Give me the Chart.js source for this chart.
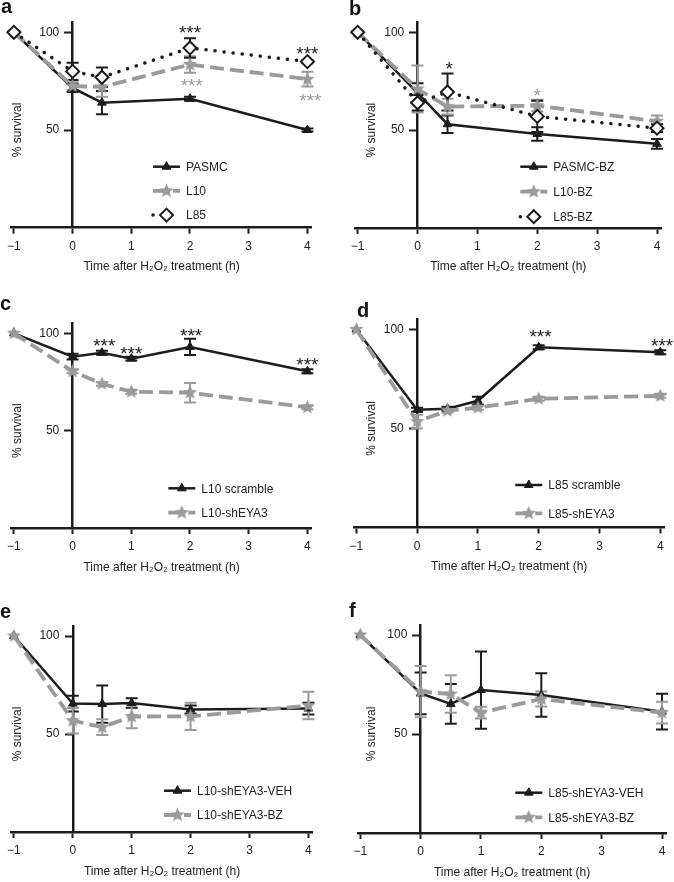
<!DOCTYPE html>
<html lang="en">
<head>
<meta charset="UTF-8">
<title>% survival after H2O2 treatment</title>
<script src="https://cdn.jsdelivr.net/npm/chart.js"></script>
<style>
  body { margin: 0; background: #fff; }
  #fig { position: relative; width: 674px; height: 882px; overflow: hidden; font-family: "Liberation Sans", Arial, sans-serif; }
  #fig canvas { position: absolute; }
  .lbl { position: absolute; font-weight: bold; font-size: 20px; line-height: 1; color: #111; }
</style>
</head>
<body>
<div id="fig">
  <canvas id="pa" width="337" height="290" style="left:0;top:0"></canvas>
  <canvas id="pb" width="337" height="290" style="left:337px;top:0"></canvas>
  <canvas id="pc" width="337" height="290" style="left:0;top:290px"></canvas>
  <canvas id="pd" width="337" height="290" style="left:337px;top:290px"></canvas>
  <canvas id="pe" width="337" height="302" style="left:0;top:580px"></canvas>
  <canvas id="pf" width="337" height="302" style="left:337px;top:580px"></canvas>
  <div class="lbl" style="left:1px;top:-4px">a</div>
  <div class="lbl" style="left:349px;top:-2px">b</div>
  <div class="lbl" style="left:0;top:293px">c</div>
  <div class="lbl" style="left:357px;top:300px">d</div>
  <div class="lbl" style="left:0;top:601px">e</div>
  <div class="lbl" style="left:349px;top:600px">f</div>
</div>
<script>
// time points (h after H2O2) and axis ticks
const timesAB = [-1, 0, 0.5, 2, 4];
const timesCF = [-1, 0, 0.5, 1, 2, 4];
const xTicks = [-1, 0, 1, 2, 3, 4];
const yTicks = [50, 100];

// panel a
const pasmc = [100, 71.5, 64, 66, 50];
const pasmcErr = [0, 2, 6, 1, 0.8];
const l10 = [100, 72.5, 72, 83.5, 76];
const l10Err = [0, 2, 5, 4.2, 3.8];
const l85 = [100, 80, 77, 92, 85];
const l85Err = [0, 4.4, 5, 5, 0.8];
const sigA = [{ x: 2, y: 102, t: '***' }, { x: 4, y: 91.3, t: '***' }];
const sigAGray = [{ x: 2.03, y: 75, t: '***' }, { x: 4.05, y: 67.4, t: '***' }];

// panel b
const pasmcBz = [100, 69, 53, 48, 43];
const pasmcBzErr = [0, 5, 4.5, 3.5, 2.5];
const l10Bz = [100, 71, 62, 62.5, 54.5];
const l10BzErr = [0, 12, 4, 3, 3];
const l85Bz = [100, 64, 69.5, 57, 51];
const l85BzErr = [0, 4, 9.5, 8, 2];
const sigB = [{ x: 0.53, y: 83.8, t: '*' }];
const sigBGray = [{ x: 2, y: 70, t: '*' }];

// panel c
const l10Scr = [100, 88, 90, 87, 93, 80.5];
const l10ScrErr = [0, 1.5, 1, 1, 4.2, 1];
const l10Sh = [100, 80.5, 74, 70, 69.5, 62];
const l10ShErr = [0, 1, 1, 1, 5, 1];
const sigC = [{ x: 0.54, y: 96, t: '***' }, { x: 1, y: 92, t: '***' }, { x: 2.02, y: 101, t: '***' }, { x: 4, y: 86.3, t: '***' }];

// panel d
const l85Scr = [100, 59.5, 60, 64, 91, 88.5];
const l85ScrErr = [0, 1, 1, 2, 1, 1];
const l85Sh = [100, 53.5, 59, 60.5, 65, 66.5];
const l85ShErr = [0, 3.5, 1, 1, 1, 1];
const sigD = [{ x: 2.03, y: 98.4, t: '***' }, { x: 4.03, y: 94.3, t: '***' }];

// panel e
const l10Veh = [100, 65.5, 65.3, 65.8, 62.5, 63];
const l10VehErr = [0, 4, 9.5, 2.4, 2, 3];
const l10BzE = [100, 56.8, 53.5, 58.9, 59, 64.5];
const l10BzEErr = [0, 6.5, 4, 6, 7, 7];

// panel f
const l85Veh = [100, 70.5, 65.2, 72.2, 69.7, 61.3];
const l85VehErr = [0, 10.5, 10, 19.5, 11, 9];
const l85BzF = [100, 71.4, 70.2, 60.8, 67.7, 60.8];
const l85BzFErr = [0, 13, 9.5, 3, 3.8, 5.5];

const BLACK = '#1c1c1c', GRAY = '#9a9a9a', TXT = '#222';
const FONT = '"Liberation Sans", Arial, sans-serif';
const X_MIN = -1.04, X_MAX = 4.07, Y_MAX = 105;
const AXIS_H = 48.4;

function starImage(r) {
  const s = Math.ceil(r * 2 + 2);
  const c = document.createElement('canvas');
  c.width = s; c.height = s;
  const g = c.getContext('2d');
  g.fillStyle = GRAY;
  g.beginPath();
  for (let k = 0; k < 10; k++) {
    const rr = k % 2 ? r * 0.45 : r;
    const a = -Math.PI / 2 + k * Math.PI / 5;
    g.lineTo(s / 2 + rr * Math.cos(a), s / 2 + rr * Math.sin(a));
  }
  g.closePath();
  g.fill();
  return c;
}
const STAR = starImage(7.5);

const solidTri = { borderColor: BLACK, backgroundColor: BLACK, borderWidth: 2.5, pointStyle: 'triangle', pointRadius: 5, pointBorderWidth: 1, pointBackgroundColor: BLACK, pointBorderColor: BLACK };
const dashStar = { borderColor: GRAY, backgroundColor: GRAY, borderWidth: 3.8, borderDash: [14, 6], pointStyle: STAR, pointRadius: 7, pointBorderWidth: 0 };
const dotDiamond = { borderColor: BLACK, backgroundColor: '#fff', borderWidth: 3.5, borderDash: [0.1, 9], borderCapStyle: 'round', pointStyle: 'rectRot', pointRadius: 6.5, pointBorderWidth: 2, pointBackgroundColor: '#fff', pointBorderColor: BLACK };

function series(label, xs, ys, err, style, order) {
  return Object.assign({ label, order, tension: 0, clip: false, fill: false, errors: err,
    data: xs.map((x, i) => ({ x, y: ys[i] })) }, style);
}

// error bars, significance marks, in-plot legend and y title
const extras = {
  id: 'extras',
  beforeDatasetsDraw(chart) {
    const { ctx, scales: { x, y } } = chart;
    chart.data.datasets.forEach(ds => {
      ctx.save();
      ctx.strokeStyle = ds.borderColor;
      ctx.lineWidth = 2;
      ds.data.forEach((p, i) => {
        const e = ds.errors[i];
        if (!e) return;
        const px = x.getPixelForValue(p.x);
        const y1 = y.getPixelForValue(p.y + e), y2 = y.getPixelForValue(p.y - e);
        ctx.beginPath();
        ctx.moveTo(px, y1); ctx.lineTo(px, y2);
        ctx.moveTo(px - 6, y1); ctx.lineTo(px + 6, y1);
        ctx.moveTo(px - 6, y2); ctx.lineTo(px + 6, y2);
        ctx.stroke();
      });
      ctx.restore();
    });
  },
  afterDatasetsDraw(chart, args, opts) {
    const { ctx, scales: { x, y } } = chart;
    ctx.save();
    // significance
    ctx.font = '19px ' + FONT;
    ctx.textAlign = 'center';
    ctx.textBaseline = 'alphabetic';
    (opts.sig || []).forEach(group => {
      ctx.fillStyle = group.color;
      group.marks.forEach(m => ctx.fillText(m.t, x.getPixelForValue(m.x), y.getPixelForValue(m.y) + 0.57 * 19));
    });
    // legend
    const lg = opts.legend;
    chart.data.datasets.forEach((ds, i) => {
      const cy = lg.y + i * lg.gap;
      ctx.strokeStyle = ds.borderColor;
      ctx.lineWidth = ds.borderWidth;
      ctx.lineCap = ds.borderCapStyle || 'butt';
      ctx.setLineDash(ds.borderDash || []);
      ctx.beginPath();
      ctx.moveTo(lg.x, cy); ctx.lineTo(lg.x + 27, cy);
      ctx.stroke();
      ctx.setLineDash([]);
      ctx.lineCap = 'butt';
      ctx.fillStyle = ds.pointBackgroundColor || ds.borderColor;
      ctx.strokeStyle = ds.pointBorderColor || ds.borderColor;
      ctx.lineWidth = ds.pointBorderWidth;
      Chart.helpers.drawPoint(ctx, { pointStyle: ds.pointStyle, radius: ds.pointRadius, rotation: 0, borderWidth: ds.pointBorderWidth }, lg.x + 13.5, cy);
      ctx.fillStyle = TXT;
      ctx.font = '12px ' + FONT;
      ctx.textAlign = 'left';
      ctx.textBaseline = 'middle';
      ctx.fillText(ds.label, lg.x + 33, cy + 1);
    });
    // y title
    ctx.translate(opts.yTitleX, y.getPixelForValue(50));
    ctx.rotate(-Math.PI / 2);
    ctx.fillStyle = TXT;
    ctx.font = '12px ' + FONT;
    ctx.textAlign = 'center';
    ctx.textBaseline = 'middle';
    ctx.fillText('% survival', 0, 0);
    ctx.restore();
  }
};

function makePanel(id, L, datasets, sig) {
  const ppx = (L.x4 - L.xm1) / 5;
  const ppy = (L.y0 - L.y100) / 100;
  const left = L.xm1 + (X_MIN + 1) * ppx;
  const right = L.x4 + (X_MAX - 4) * ppx;
  const top = L.y0 - Y_MAX * ppy;
  const grid = { drawOnChartArea: false, drawTicks: true, tickLength: 6, tickWidth: 2, tickColor: BLACK };
  const border = { display: true, color: BLACK, width: 2.5 };
  new Chart(document.getElementById(id), {
    type: 'line',
    data: { datasets },
    options: {
      responsive: false, animation: false, events: [],
      layout: { padding: { left, top, right: L.w - right, bottom: L.h - L.y0 - AXIS_H } },
      plugins: {
        legend: { display: false }, tooltip: { enabled: false },
        extras: { sig, legend: L.legend, yTitleX: L.titleX }
      },
      scales: {
        x: {
          type: 'linear', min: X_MIN, max: X_MAX, grid, border,
          afterBuildTicks: s => { s.ticks = xTicks.map(v => ({ value: v })); },
          ticks: { color: TXT, padding: 7, font: { family: FONT, size: 12, lineHeight: 1 },
            callback: v => v < 0 ? '\u2212' + Math.abs(v) : String(v) },
          title: { display: true, text: 'Time after H\u2082O\u2082 treatment (h)', color: TXT,
            font: { family: FONT, size: 12, lineHeight: 1.2 }, padding: { top: 0, bottom: 2 } }
        },
        y: {
          type: 'linear', position: { x: 0 }, min: 0, max: Y_MAX,
          grid: Object.assign({}, grid, { tickLength: 7 }), border,
          afterBuildTicks: s => { s.ticks = yTicks.map(v => ({ value: v })); },
          // axis sits at x = 0, so the label gap is kept with trailing spaces
          ticks: { color: TXT, font: { family: FONT, size: 12 }, callback: v => v + '    ' }
        }
      }
    },
    plugins: [extras]
  });
}

makePanel('pa', { w: 337, h: 290, xm1: 7.3, x4: 307.3, y0: 227.7, y100: 32.3, titleX: 18, legend: { x: 153, y: 166.7, gap: 24.2 } }, [
  series('PASMC', timesAB, pasmc, pasmcErr, solidTri, 2),
  series('L10', timesAB, l10, l10Err, dashStar, 1),
  series('L85', timesAB, l85, l85Err, dotDiamond, 0)
], [{ marks: sigA, color: BLACK }, { marks: sigAGray, color: GRAY }]);

makePanel('pb', { w: 337, h: 290, xm1: 20.7, x4: 320, y0: 227.9, y100: 32.3, titleX: 35, legend: { x: 183.3, y: 166.7, gap: 25 } }, [
  series('PASMC-BZ', timesAB, pasmcBz, pasmcBzErr, solidTri, 2),
  series('L10-BZ', timesAB, l10Bz, l10BzErr, dashStar, 1),
  series('L85-BZ', timesAB, l85Bz, l85BzErr, dotDiamond, 0)
], [{ marks: sigB, color: BLACK }, { marks: sigBGray, color: GRAY }]);

makePanel('pc', { w: 337, h: 290, xm1: 6.7, x4: 307.3, y0: 238, y100: 43.3, titleX: 18, legend: { x: 168.3, y: 198.3, gap: 24.4 } }, [
  series('L10 scramble', timesCF, l10Scr, l10ScrErr, solidTri, 1),
  series('L10-shEYA3', timesCF, l10Sh, l10ShErr, dashStar, 0)
], [{ marks: sigC, color: BLACK }]);

makePanel('pd', { w: 337, h: 290, xm1: 19.3, x4: 323.3, y0: 237.5, y100: 39.5, titleX: 35, legend: { x: 178.3, y: 195, gap: 28.3 } }, [
  series('L85 scramble', timesCF, l85Scr, l85ScrErr, solidTri, 1),
  series('L85-shEYA3', timesCF, l85Sh, l85ShErr, dashStar, 0)
], [{ marks: sigD, color: BLACK }]);

makePanel('pe', { w: 337, h: 302, xm1: 6, x4: 308.3, y0: 252, y100: 56, titleX: 18, legend: { x: 164, y: 210.7, gap: 24.3 } }, [
  series('L10-shEYA3-VEH', timesCF, l10Veh, l10VehErr, solidTri, 1),
  series('L10-shEYA3-BZ', timesCF, l10BzE, l10BzEErr, dashStar, 0)
], []);

makePanel('pf', { w: 337, h: 302, xm1: 23.3, x4: 325, y0: 253, y100: 55, titleX: 35, legend: { x: 178.3, y: 212.7, gap: 24.6 } }, [
  series('L85-shEYA3-VEH', timesCF, l85Veh, l85VehErr, solidTri, 1),
  series('L85-shEYA3-BZ', timesCF, l85BzF, l85BzFErr, dashStar, 0)
], []);
</script>
</body>
</html>
